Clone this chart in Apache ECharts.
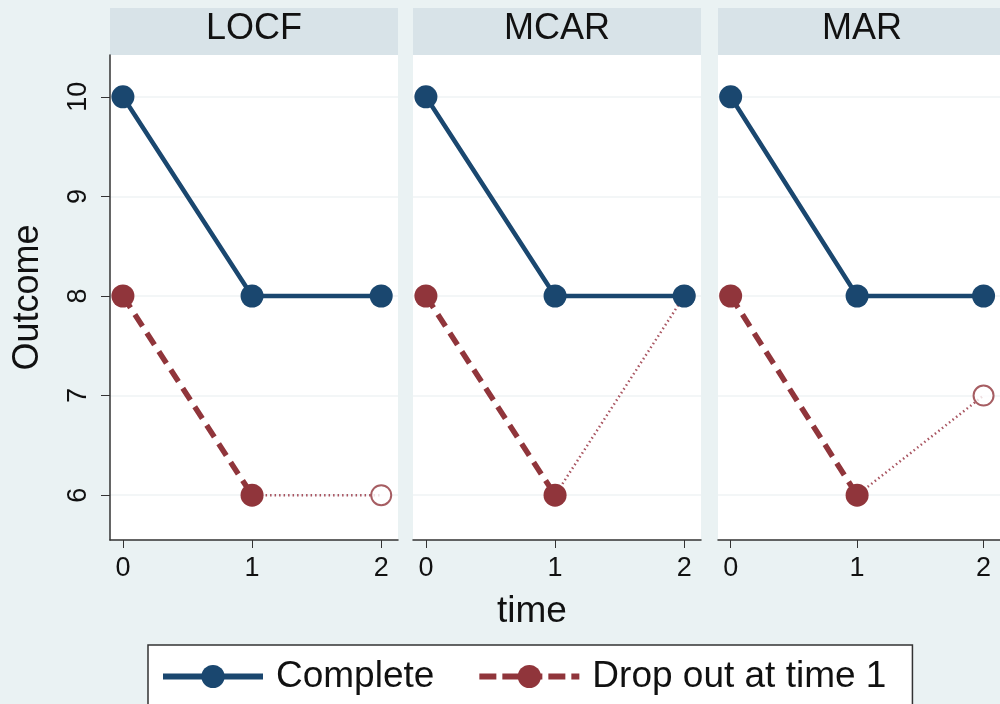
<!DOCTYPE html>
<html>
<head>
<meta charset="utf-8">
<script src="https://cdn.jsdelivr.net/npm/echarts@6/dist/echarts.min.js"></script>
<style>
  html, body { margin: 0; padding: 0; background: #eaf2f3; }
  #chart { width: 1000px; height: 704px; }
</style>
</head>
<body>
<div id="chart"></div>
<script>
// data
var panels = ['LOCF', 'MCAR', 'MAR'];
var times = [0, 1, 2];
var complete = [10, 8, 8];          // Complete, time 0..2
var dropTimes = [0, 1];
var dropout = [8, 6];               // Drop out at time 1, time 0..1
var imputed = [6, 8, 7];            // imputed value at time 2, per panel
var xTicks = [0, 1, 2];
var yTicks = [6, 7, 8, 9, 10];

var navy = '#1a476f';
var maroon = '#90353b';
var font = 'Liberation Sans, Arial, sans-serif';

var chart = echarts.init(document.getElementById('chart'));

var gridLefts = [110, 413, 718];
var grids = [], xAxes = [], yAxes = [], series = [], graphics = [];

for (var p = 0; p < panels.length; p++) {
    grids.push({
        left: gridLefts[p], top: 55, width: 288, height: 485,
        show: true, backgroundColor: '#ffffff', borderWidth: 0
    });
    xAxes.push({
        gridIndex: p, type: 'value', min: -0.1, max: 2.13,
        axisLine: { show: true, onZero: false, lineStyle: { color: '#333', width: 1.5 } },
        axisTick: { show: true, length: 8, customValues: xTicks, lineStyle: { color: '#333', width: 1 } },
        axisLabel: { customValues: xTicks, color: '#111', fontSize: 27, fontFamily: font, margin: 15 },
        splitLine: { show: false }
    });
    yAxes.push({
        gridIndex: p, type: 'value', min: 5.55, max: 10.42,
        name: p === 0 ? 'Outcome' : '',
        nameLocation: 'middle', nameRotate: 90, nameGap: 64,
        nameTextStyle: { color: '#111', fontSize: 36, fontFamily: font },
        axisLine: { show: p === 0, onZero: false, lineStyle: { color: '#333', width: 1.5 } },
        axisTick: { show: p === 0, length: 9, customValues: yTicks, lineStyle: { color: '#333', width: 1 } },
        axisLabel: { show: p === 0, customValues: yTicks, rotate: 90, color: '#111', fontSize: 27, fontFamily: font, margin: 18 },
        splitLine: { show: true, lineStyle: { color: '#eff3f4', width: 1.5 } }
    });

    // imputed part: dotted line from time 1 and hollow marker at time 2
    series.push({
        name: 'imputed', type: 'line', xAxisIndex: p, yAxisIndex: p,
        data: [[times[1], dropout[1]], [times[2], imputed[p]]],
        showSymbol: false,
        lineStyle: { color: '#a85460', width: 2.5, type: [1.5, 3] },
        z: 2, animation: false, silent: true
    });
    series.push({
        name: 'imputed', type: 'scatter', xAxisIndex: p, yAxisIndex: p,
        data: [[times[2], imputed[p]]],
        symbol: 'circle', symbolSize: 20,
        itemStyle: { color: '#ffffff', borderColor: maroon, borderWidth: 2 },
        z: 2, animation: false, silent: true
    });
    series.push({
        name: 'Drop out at time 1', type: 'line', xAxisIndex: p, yAxisIndex: p,
        data: dropTimes.map(function (t, i) { return [t, dropout[i]]; }),
        symbol: 'circle', symbolSize: 23,
        lineStyle: { color: maroon, width: 5.5, type: [14, 8] },
        itemStyle: { color: maroon },
        z: 3, animation: false
    });
    series.push({
        name: 'Complete', type: 'line', xAxisIndex: p, yAxisIndex: p,
        data: times.map(function (t, i) { return [t, complete[i]]; }),
        symbol: 'circle', symbolSize: 23,
        lineStyle: { color: navy, width: 4.5 },
        itemStyle: { color: navy },
        z: 4, animation: false
    });

    graphics.push({
        type: 'rect', left: gridLefts[p], top: 8, z: -1,
        shape: { width: 288, height: 47 },
        style: { fill: '#d8e3e8' }
    });
    graphics.push({
        type: 'text', x: gridLefts[p] + 144, y: 29,
        style: { text: panels[p], font: '36px ' + font, fill: '#111', textAlign: 'center', textVerticalAlign: 'middle' }
    });
}

graphics.push({
    type: 'text', x: 532, y: 612,
    style: { text: 'time', font: '37px ' + font, fill: '#111', textAlign: 'center', textVerticalAlign: 'middle' }
});

var option = {
    backgroundColor: '#eaf2f3',
    animation: false,
    grid: grids,
    xAxis: xAxes,
    yAxis: yAxes,
    series: series,
    graphic: graphics,
    legend: {
        data: [
            { name: 'Complete', lineStyle: { width: 6, color: navy } },
            { name: 'Drop out at time 1', lineStyle: { width: 6, color: maroon, type: [17, 6] } }
        ],
        left: 148, top: 645,
        padding: [13, 26, 40, 12],
        itemWidth: 100, itemHeight: 29, itemGap: 42,
        backgroundColor: '#ffffff', borderColor: '#333', borderWidth: 1.5, borderRadius: 0,
        textStyle: { color: '#111', fontSize: 37, fontFamily: font, padding: [0, 0, 0, 8] }
    }
};

chart.setOption(option);
</script>
</body>
</html>
